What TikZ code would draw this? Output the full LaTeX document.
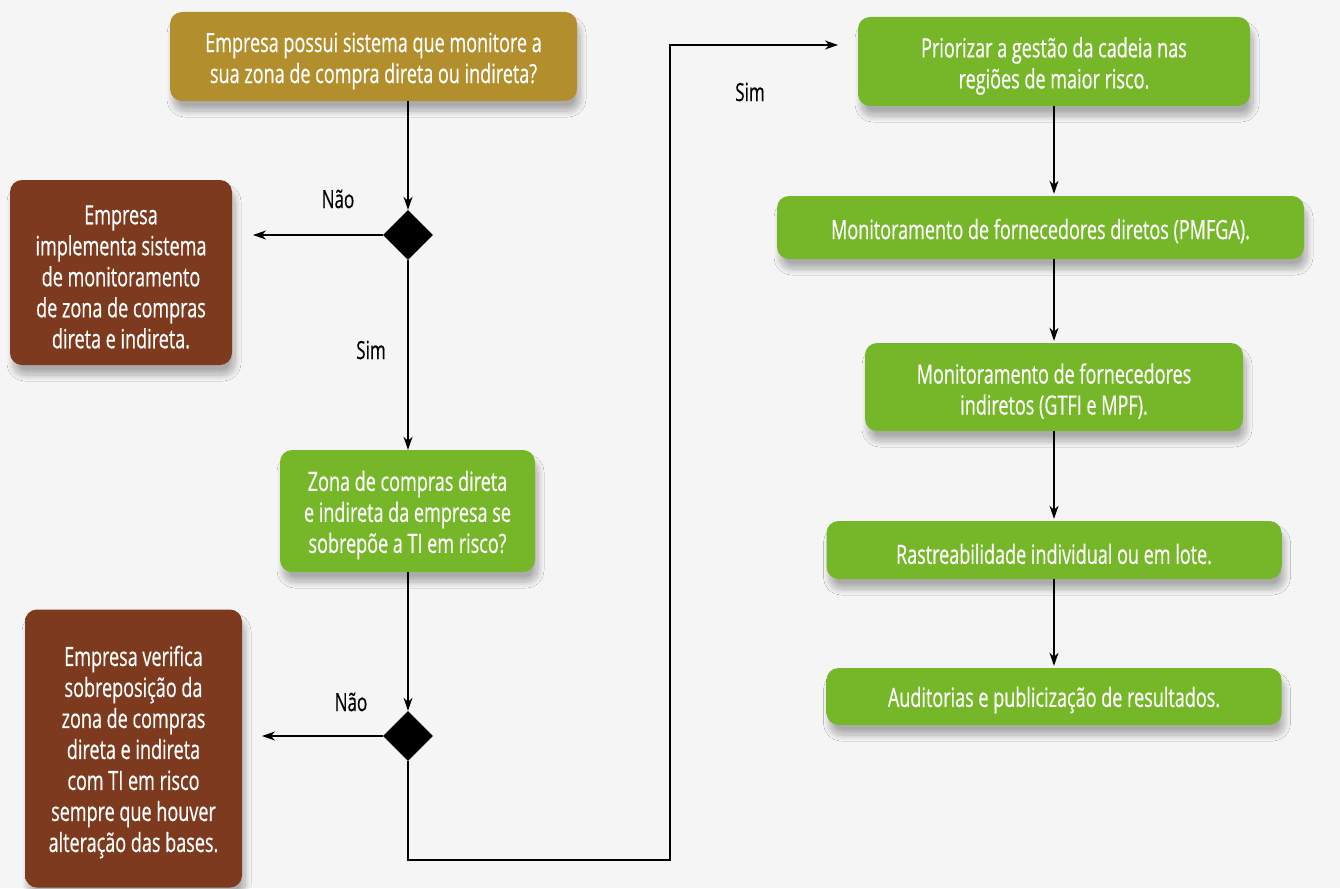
\documentclass[tikz,border=0pt]{standalone}
\usepackage{fontspec}
\setmainfont{Open Sans}[FakeStretch=0.68,FakeBold=0.5]
\usetikzlibrary{shapes.geometric,arrows.meta,shadows.blur}
\definecolor{bg}{HTML}{F5F5F5}
\definecolor{gold}{HTML}{B38E2C}
\definecolor{brown}{HTML}{7E3A1E}
\definecolor{grn}{HTML}{76B72A}
\pgfdeclareverticalshading{goldshade}{100bp}{color(0bp)=(gold!75!black); color(10bp)=(gold!88!black); color(25bp)=(gold); color(80bp)=(gold); color(100bp)=(gold!65!white)}
\pgfdeclareverticalshading{brownshade}{100bp}{color(0bp)=(brown!75!black); color(10bp)=(brown!88!black); color(25bp)=(brown); color(85bp)=(brown); color(100bp)=(brown!70!white)}
\pgfdeclareverticalshading{greenshade}{100bp}{color(0bp)=(grn!75!black); color(10bp)=(grn!88!black); color(25bp)=(grn); color(80bp)=(grn); color(100bp)=(grn!65!white)}
\tikzset{
  boxbase/.style={rounded corners=12pt, inner sep=0pt,
    blur shadow={shadow xshift=3pt, shadow yshift=-10pt, shadow blur radius=6pt, shadow blur steps=20, shadow opacity=30}},
  goldbox/.style={boxbase, shading=goldshade},
  brownbox/.style={boxbase, shading=brownshade},
  greenbox/.style={boxbase, shading=greenshade},
  boxtext/.style={text=white, align=center, font=\fontsize{26.5}{31}\selectfont},
  decision/.style={diamond, fill=black, minimum width=50pt, minimum height=50pt, inner sep=0pt},
  conn/.style={line width=1.2pt, -{Stealth[length=13pt,width=9pt,inset=4pt]}},
  lbl/.style={font=\fontsize{25}{30}\selectfont, text=black}
}
\begin{document}
\begin{tikzpicture}[x=1pt,y=-1pt]
\useasboundingbox (0,0) rectangle (1340,888);
\fill[bg] (0,0) rectangle (1340,888);
% left column
\node[goldbox, minimum width=407pt, minimum height=89pt] (q1) at (373.5,56.5) {};
\node[boxtext] (q1t) at (373.5,61) {Empresa possui sistema que monitore a\\sua zona de compra direta ou indireta?};
\node[decision] (d1) at (408,235) {};
\node[brownbox, minimum width=222pt, minimum height=185pt] (b1) at (121,272.5) {};
\node[boxtext] (b1t) at (121,277) {Empresa\\implementa sistema\\de monitoramento\\de zona de compras\\direta e indireta.};
\node[greenbox, minimum width=255pt, minimum height=122pt] (g1) at (407.5,511) {};
\node[boxtext] (g1t) at (407.5,515) {Zona de compras direta\\e indireta da empresa se\\sobrepõe a TI em risco?};
\node[decision] (d2) at (408,736) {};
\node[brownbox, minimum width=217pt, minimum height=278pt] (b2) at (133.5,748.5) {};
\node[boxtext] (b2t) at (133.5,752) {Empresa verifica\\sobreposição da\\zona de compras\\direta e indireta\\com TI em risco\\sempre que houver\\alteração das bases.};
% right column
\node[greenbox, minimum width=392pt, minimum height=89pt] (gA) at (1054,61.5) {};
\node[boxtext] (gAt) at (1054,66) {Priorizar a gestão da cadeia nas\\regiões de maior risco.};
\node[greenbox, minimum width=527pt, minimum height=63pt] (gB) at (1040.5,227.5) {};
\node[boxtext] (gBt) at (1040.5,231) {Monitoramento de fornecedores diretos (PMFGA).};
\node[greenbox, minimum width=378pt, minimum height=88pt] (gC) at (1054,387) {};
\node[boxtext] (gCt) at (1054,391) {Monitoramento de fornecedores\\indiretos (GTFI e MPF).};
\node[greenbox, minimum width=455pt, minimum height=58pt] (gD) at (1054,550) {};
\node[boxtext] (gDt) at (1054,554) {Rastreabilidade individual ou em lote.};
\node[greenbox, minimum width=455pt, minimum height=57pt] (gE) at (1054,696.5) {};
\node[boxtext] (gEt) at (1054,700) {Auditorias e publicização de resultados.};
% labels
\node[lbl] (l1) at (338,199) {Não};
\node[lbl] (l2) at (371,350) {Sim};
\node[lbl] (l3) at (351,702) {Não};
\node[lbl] (l4) at (750,92) {Sim};
% free ends
\coordinate (e1) at (253,235);
\coordinate (e2) at (262,736);
\coordinate (c1) at (670,860);
\coordinate (c2) at (838,45);
% connectors
\draw[conn] (d1.north |- q1.south) -- (d1.north);
\draw[conn] (d1.west) -- (e1);
\draw[conn] (d1.south) -- (d1.south |- g1.north);
\draw[conn] (d2.north |- g1.south) -- (d2.north);
\draw[conn] (d2.west) -- (e2);
\draw[conn] (d2.south) |- (c1) |- (c2);
\draw[conn, shorten >=2pt] (gA.south) -- (gA.south |- gB.north);
\draw[conn, shorten >=2pt] (gA.south |- gB.south) -- (gA.south |- gC.north);
\draw[conn, shorten >=2pt] (gC.south) -- (gC.south |- gD.north);
\draw[conn, shorten >=2pt] (gD.south) -- (gD.south |- gE.north);
\end{tikzpicture}
\end{document}
